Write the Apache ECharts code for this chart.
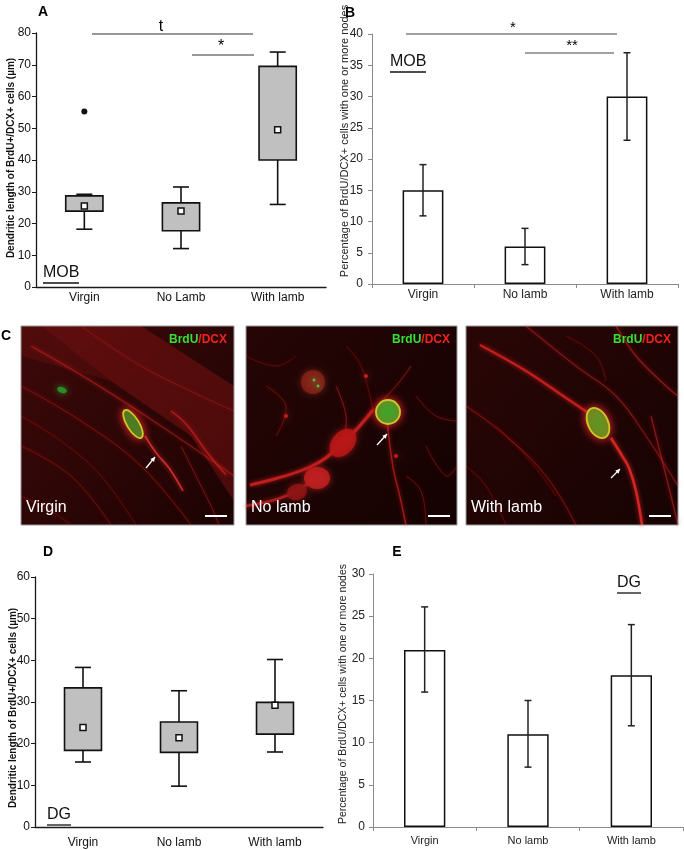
<!DOCTYPE html>
<html>
<head>
<meta charset="utf-8">
<script src="https://cdn.jsdelivr.net/npm/echarts@6/dist/echarts.min.js"></script>
<style>
html, body { margin: 0; padding: 0; background: #fff; }
#main { width: 684px; height: 850px; }
</style>
</head>
<body>
<div id="main"></div>
<script>
// groups on the x axes
var groupsA = ['Virgin', 'No Lamb', 'With lamb'];
var groupsB = ['Virgin', 'No lamb', 'With lamb'];

// A: MOB dendritic length, box = [low whisker, q1, q3, high whisker]
var mobBox = [[18.2, 23.9, 28.7, 29.2], [12.1, 17.7, 26.5, 31.5], [26, 40, 69.5, 74]];
var mobMean = [25.5, 23.9, 49.5];
var mobOutlier = [[0, 55.3]];

// B: MOB % cells with nodes (mean, error range)
var mobNodes = [15, 6, 30];
var mobNodesErr = [[10.9, 19.1], [3.1, 8.9], [23, 37]];

// D: DG dendritic length
var dgBox = [[15.6, 18.4, 33.4, 38.3], [9.8, 17.9, 25.2, 32.7], [18, 22.3, 29.9, 40.2]];
var dgMean = [23.9, 21.4, 29.2];

// E: DG % cells with nodes
var dgNodes = [21, 11, 18];
var dgNodesErr = [[16, 26.1], [7.1, 15], [12, 24]];

var font = 'Arial, "Liberation Sans", sans-serif';
var myChart = echarts.init(document.getElementById('main'));

// box + whiskers, no median line (the square is the mean)
function renderBox(params, api) {
    var c = api.value(0);
    var low = api.coord([c, api.value(1)]);
    var q1 = api.coord([c, api.value(2)]);
    var q3 = api.coord([c, api.value(3)]);
    var high = api.coord([c, api.value(4)]);
    var bw = api.size([1, 0])[0] * 0.385;
    var cw = 16;
    var x = low[0];
    var st = { stroke: '#111', lineWidth: 1.6 };
    return {
        type: 'group',
        children: [
            { type: 'line', shape: { x1: x, y1: high[1], x2: x, y2: low[1] }, style: st },
            { type: 'line', shape: { x1: x - cw / 2, y1: high[1], x2: x + cw / 2, y2: high[1] }, style: st },
            { type: 'line', shape: { x1: x - cw / 2, y1: low[1], x2: x + cw / 2, y2: low[1] }, style: st },
            { type: 'rect', shape: { x: x - bw / 2, y: q3[1], width: bw, height: q1[1] - q3[1] },
              style: { fill: '#c0c0c0', stroke: '#111', lineWidth: 1.6 } }
        ]
    };
}

function renderErr(params, api) {
    var c = api.value(0);
    var lo = api.coord([c, api.value(1)]);
    var hi = api.coord([c, api.value(2)]);
    var x = lo[0], cw = 7;
    var st = { stroke: '#222', lineWidth: 1.5 };
    return {
        type: 'group',
        children: [
            { type: 'line', shape: { x1: x, y1: hi[1], x2: x, y2: lo[1] }, style: st },
            { type: 'line', shape: { x1: x - cw / 2, y1: hi[1], x2: x + cw / 2, y2: hi[1] }, style: st },
            { type: 'line', shape: { x1: x - cw / 2, y1: lo[1], x2: x + cw / 2, y2: lo[1] }, style: st }
        ]
    };
}

function withIndex(arr) {
    return arr.map(function (v, i) { return [i].concat(v); });
}

function catAxis(gi, data, dark, size, margin) {
    var col = dark ? '#1a1a1a' : '#8a8a8a';
    return {
        gridIndex: gi, type: 'category', data: data,
        axisLine: { lineStyle: { color: col, width: dark ? 1.3 : 1 } },
        axisTick: { show: !dark, length: 4, lineStyle: { color: col } },
        axisLabel: { color: dark ? '#111' : '#222', fontSize: size, margin: margin, fontFamily: font }
    };
}

function valAxis(gi, max, step, dark, margin) {
    var col = dark ? '#1a1a1a' : '#8a8a8a';
    return {
        gridIndex: gi, type: 'value', min: 0, max: max, interval: step,
        axisLine: { show: true, lineStyle: { color: col, width: dark ? 1.3 : 1 } },
        axisTick: { show: true, length: 4, lineStyle: { color: col } },
        splitLine: { show: false },
        axisLabel: { color: dark ? '#111' : '#222', fontSize: 12, margin: margin, fontFamily: font }
    };
}

// ---------- helpers for the graphic overlay ----------
function txt(x, y, s, size, weight, color, align, rot) {
    return {
        type: 'text', x: x, y: y, rotation: rot || 0,
        style: { text: s, fill: color || '#000', fontSize: size, fontWeight: weight || 'normal',
                 fontFamily: font, textAlign: align || 'center', textVerticalAlign: 'middle' }
    };
}
function seg(x1, y1, x2, y2, color, w) {
    return { type: 'line', shape: { x1: x1, y1: y1, x2: x2, y2: y2 },
             style: { stroke: color || '#222', lineWidth: w || 1 } };
}
function underlined(x, y, s, w) {
    return [
        { type: 'text', x: x, y: y,
          style: { text: s, fill: '#111', fontSize: 16, fontFamily: font, textAlign: 'left', textVerticalAlign: 'bottom' } },
        seg(x, y + 2, x + w, y + 2, '#111', 1.3)
    ];
}

// microscopy panel pieces
function curve(pts, w, color, op) {
    return { type: 'polyline', shape: { points: pts, smooth: 0.4 },
             style: { stroke: color, lineWidth: w, opacity: op, fill: null, shadowBlur: 4, shadowColor: color } };
}
function blob(cx, cy, rx, ry, rot, fill, op) {
    return { type: 'ellipse', shape: { cx: 0, cy: 0, rx: rx, ry: ry }, x: cx, y: cy, rotation: rot,
             style: { fill: fill, opacity: op, shadowBlur: 6, shadowColor: fill } };
}
function cell(cx, cy, rx, ry, rot, fill) {
    return { type: 'ellipse', shape: { cx: 0, cy: 0, rx: rx, ry: ry }, x: cx, y: cy, rotation: rot,
             style: { fill: fill, stroke: '#c8cc28', lineWidth: 1.8, shadowBlur: 8, shadowColor: '#ff2a2a' } };
}
function arrow(x1, y1, x2, y2) {
    var a = Math.atan2(y2 - y1, x2 - x1), L = 5;
    return [
        seg(x1, y1, x2, y2, '#fff', 1.3),
        { type: 'polygon', shape: { points: [[x2, y2],
            [x2 - L * Math.cos(a - 0.5), y2 - L * Math.sin(a - 0.5)],
            [x2 - L * Math.cos(a + 0.5), y2 - L * Math.sin(a + 0.5)]] },
          style: { fill: '#fff' } }
    ];
}
function micro(x0, y0, w, h, name, bgA, bgB, parts) {
    var kids = [
        { type: 'rect', shape: { x: 0, y: 0, width: w, height: h },
          style: { fill: { type: 'linear', x: 0, y: 0, x2: 1, y2: 1,
                           colorStops: [{ offset: 0, color: bgA }, { offset: 1, color: bgB }] } } }
    ].concat(parts);
    kids.push({ type: 'text', x: w - 7, y: 14,
        style: { text: '{g|BrdU}{r|/DCX}', fontSize: 12, fontWeight: 'bold', fontFamily: font,
                 textAlign: 'right', textVerticalAlign: 'middle',
                 rich: { g: { fill: '#35e035', color: '#35e035', fontSize: 12, fontWeight: 'bold', fontFamily: font },
                         r: { fill: '#f02222', color: '#f02222', fontSize: 12, fontWeight: 'bold', fontFamily: font } } } });
    kids.push({ type: 'text', x: 5, y: 190,
        style: { text: name, fill: '#fff', fontSize: 16, fontFamily: font, textAlign: 'left', textVerticalAlign: 'bottom' } });
    kids.push(seg(w - 29, 190, w - 7, 190, '#fff', 2));
    kids.push({ type: 'rect', shape: { x: 0, y: 0, width: w, height: h }, style: { fill: null, stroke: '#9a9a9a', lineWidth: 1 } });
    return { type: 'group', x: x0, y: y0, children: kids };
}

var virginParts = [
    { type: 'polygon', shape: { points: [[20, 0], [120, 0], [213, 60], [213, 175], [170, 110], [90, 55]] },
      style: { fill: 'rgba(170,25,25,0.32)' } },
    { type: 'polygon', shape: { points: [[0, 0], [20, 0], [90, 55], [0, 30]] },
      style: { fill: 'rgba(140,20,20,0.25)' } },
    curve([[0, 60], [60, 95], [120, 140], [170, 199]], 1, '#b01515', 0.6),
    curve([[10, 20], [70, 55], [140, 100], [213, 150]], 1.5, '#c82020', 0.5),
    curve([[0, 120], [50, 150], [90, 199]], 1, '#b01515', 0.5),
    curve([[60, 0], [120, 40], [180, 70], [213, 85]], 1, '#c02020', 0.4),
    curve([[0, 170], [30, 185], [50, 199]], 1, '#b01515', 0.4),
    curve([[0, 90], [40, 115], [80, 150], [115, 199]], 1, '#a01212', 0.45),
    curve([[150, 85], [166, 99], [185, 125], [205, 149]], 1.5, '#d02020', 0.7),
    curve([[124, 110], [136, 128], [148, 142], [162, 165]], 1.5, '#e03030', 0.9),
    curve([[160, 120], [175, 150], [190, 180], [198, 199]], 1, '#c02020', 0.5),
    blob(41, 64, 5, 3, -0.3, '#2a9a2a', 0.85),
    cell(112, 98, 6, 16, 0.55, '#2e8b22')
].concat(arrow(125, 142, 134, 131));

var noLambParts = [
    curve([[4, 159], [64, 141], [97, 117], [127, 84]], 3, '#d02020', 0.85),
    curve([[0, 180], [40, 170], [70, 152]], 2.5, '#c02020', 0.8),
    curve([[141, 94], [147, 141], [154, 171], [160, 199]], 1.5, '#c82020', 0.7),
    curve([[127, 84], [150, 60], [165, 40]], 1, '#c02020', 0.6),
    curve([[90, 60], [100, 90], [97, 117]], 1, '#c02020', 0.6),
    curve([[170, 70], [190, 90], [211, 95]], 1, '#b01515', 0.5),
    curve([[20, 60], [40, 80], [30, 110]], 1, '#b01515', 0.5),
    curve([[180, 120], [200, 150], [211, 140]], 1, '#b01515', 0.5),
    curve([[160, 150], [175, 165], [180, 199]], 1, '#b01515', 0.5),
    curve([[100, 20], [115, 40], [127, 84]], 1, '#b01515', 0.4),
    curve([[0, 30], [30, 40], [50, 30]], 1, '#a01212', 0.4),
    blob(67, 56, 12, 12, 0, '#8a2418', 0.75),
    blob(68, 54, 1.5, 1.5, 0, '#40d040', 0.9),
    blob(72, 60, 1.5, 1.5, 0, '#40d040', 0.9),
    blob(97, 117, 11, 16, -0.7, '#b81818', 0.85),
    blob(71, 152, 13, 11, 0, '#c02020', 0.85),
    blob(51, 166, 10, 8, 0.3, '#901515', 0.8),
    blob(40, 90, 2, 2, 0, '#d02020', 0.9),
    blob(120, 50, 2, 2, 0, '#d02020', 0.9),
    blob(150, 130, 2, 2, 0, '#d02020', 0.9),
    cell(142, 86, 12, 12, 0, '#3aa82a')
].concat(arrow(131, 119, 141, 108));

var withLambParts = [
    curve([[14, 19], [60, 45], [100, 72], [121, 86]], 2.5, '#d42020', 0.85),
    curve([[145, 112], [155, 128], [163, 142], [170, 165], [176, 199]], 2.5, '#e02828', 0.9),
    curve([[0, 80], [40, 110], [80, 150], [110, 199]], 1.2, '#b81818', 0.5),
    curve([[60, 0], [110, 40], [150, 70], [180, 110], [212, 160]], 1.2, '#c02020', 0.55),
    curve([[150, 0], [170, 30], [200, 60], [212, 70]], 1.5, '#c02020', 0.6),
    curve([[185, 90], [195, 130], [205, 170], [212, 199]], 1.3, '#c02020', 0.6),
    curve([[0, 140], [20, 160], [40, 199]], 1, '#b01515', 0.4),
    curve([[100, 10], [130, 30], [140, 55]], 1, '#b01515', 0.4),
    curve([[30, 100], [60, 130], [90, 170]], 1, '#a01212', 0.4),
    cell(132, 97, 10, 16, 0.45, '#5a9a20')
].concat(arrow(145, 152, 154, 143));

var overlay = [
    txt(43, 12, 'A', 14, 'bold'),
    txt(350, 13, 'B', 14, 'bold'),
    txt(6, 336, 'C', 14, 'bold'),
    txt(48, 552, 'D', 14, 'bold'),
    txt(397, 552, 'E', 14, 'bold'),
    txt(11, 158, 'Dendritic length of BrdU+/DCX+ cells (µm)', 10, 'bold', '#111', 'center', Math.PI / 2),
    txt(13, 708, 'Dendritic length of BrdU+/DCX+ cells (µm)', 10, 'bold', '#111', 'center', Math.PI / 2),
    txt(345, 141, 'Percentage of BrdU/DCX+ cells with one or more nodes', 11, 'normal', '#222', 'center', Math.PI / 2),
    txt(343, 694, 'Percentage of BrdU/DCX+ cells with one or more nodes', 10.5, 'normal', '#222', 'center', Math.PI / 2),
    // significance marks
    seg(92, 34, 253, 34, '#333', 1.2), txt(161, 27, 't', 16),
    seg(192, 55, 254, 55, '#333', 1.2), txt(221, 47, '*', 16),
    seg(406, 34, 617, 34, '#444', 1.2), txt(513, 28, '*', 15),
    seg(525, 53, 614, 53, '#444', 1.2), txt(572, 46, '**', 15),
    micro(21, 326, 213, 199, 'Virgin', '#3e0909', '#1c0303', virginParts),
    micro(246, 326, 211, 199, 'No lamb', '#260505', '#140202', noLambParts),
    micro(466, 326, 212, 199, 'With lamb', '#2a0606', '#170303', withLambParts)
].concat(underlined(43, 281, 'MOB', 36), underlined(390, 70, 'MOB', 36),
         underlined(47, 823, 'DG', 24), underlined(617, 591, 'DG', 24));

var option = {
    backgroundColor: '#fff',
    animation: false,
    textStyle: { fontFamily: font },
    grid: [
        { left: 36, top: 33, width: 290, height: 254 },
        { left: 372, top: 34, width: 306, height: 250 },
        { left: 35, top: 577, width: 288, height: 250 },
        { left: 373, top: 574, width: 310, height: 253 }
    ],
    xAxis: [
        catAxis(0, groupsA, true, 12, 5),
        catAxis(1, groupsB, false, 12, 5),
        catAxis(2, groupsB, true, 12, 10),
        catAxis(3, groupsB, false, 11, 8)
    ],
    yAxis: [
        valAxis(0, 80, 10, true, 5),
        valAxis(1, 40, 5, false, 9),
        valAxis(2, 60, 10, true, 5),
        valAxis(3, 30, 5, false, 8)
    ],
    series: [
        { type: 'custom', xAxisIndex: 0, yAxisIndex: 0, renderItem: renderBox,
          encode: { x: 0, y: [1, 2, 3, 4] }, data: withIndex(mobBox), z: 2 },
        { type: 'scatter', xAxisIndex: 0, yAxisIndex: 0, data: mobMean, symbol: 'rect', symbolSize: 6,
          itemStyle: { color: '#fff', borderColor: '#111', borderWidth: 1.5, opacity: 1 }, z: 3 },
        { type: 'scatter', xAxisIndex: 0, yAxisIndex: 0, data: mobOutlier, symbol: 'circle', symbolSize: 6,
          itemStyle: { color: '#111', opacity: 1 }, z: 3 },
        { type: 'bar', xAxisIndex: 1, yAxisIndex: 1, data: mobNodes, barWidth: '40%',
          itemStyle: { color: '#fff', borderColor: '#111', borderWidth: 1.5 } },
        { type: 'custom', xAxisIndex: 1, yAxisIndex: 1, renderItem: renderErr,
          encode: { x: 0, y: [1, 2] }, data: withIndex(mobNodesErr), z: 3 },
        { type: 'custom', xAxisIndex: 2, yAxisIndex: 2, renderItem: renderBox,
          encode: { x: 0, y: [1, 2, 3, 4] }, data: withIndex(dgBox), z: 2 },
        { type: 'scatter', xAxisIndex: 2, yAxisIndex: 2, data: dgMean, symbol: 'rect', symbolSize: 6,
          itemStyle: { color: '#fff', borderColor: '#111', borderWidth: 1.5, opacity: 1 }, z: 3 },
        { type: 'bar', xAxisIndex: 3, yAxisIndex: 3, data: dgNodes, barWidth: '40%',
          itemStyle: { color: '#fff', borderColor: '#111', borderWidth: 1.5 } },
        { type: 'custom', xAxisIndex: 3, yAxisIndex: 3, renderItem: renderErr,
          encode: { x: 0, y: [1, 2] }, data: withIndex(dgNodesErr), z: 3 }
    ],
    graphic: overlay
};
myChart.setOption(option);
</script>
</body>
</html>
